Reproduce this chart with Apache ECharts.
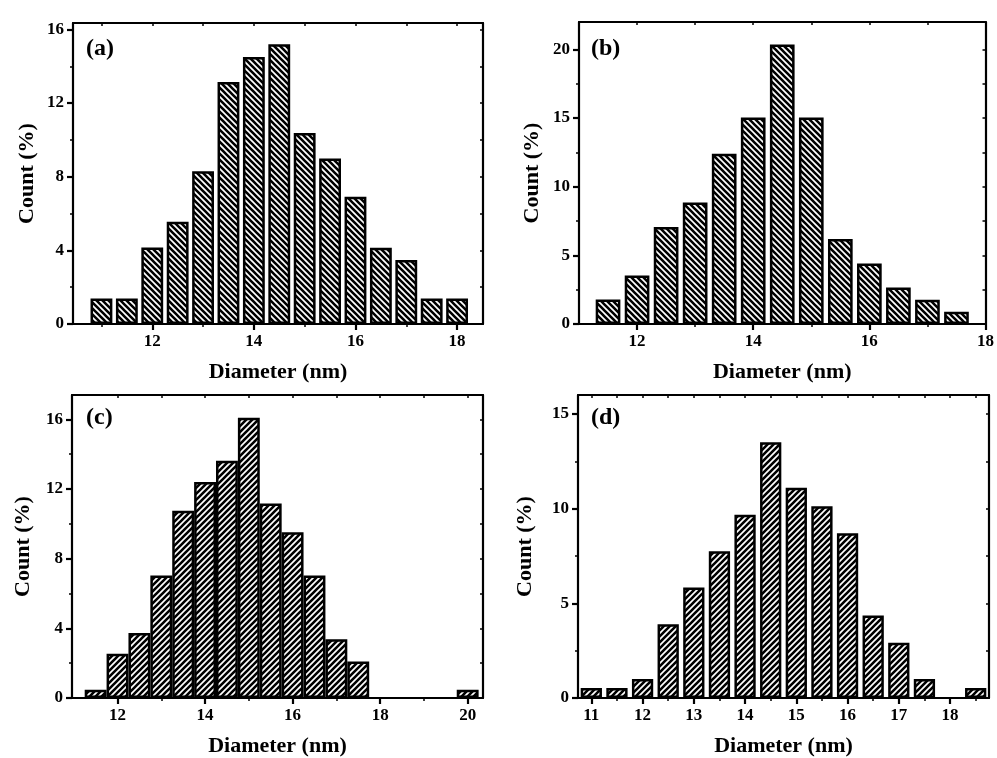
<!DOCTYPE html>
<html>
<head>
<meta charset="utf-8">
<script src="https://cdn.jsdelivr.net/npm/echarts@6/dist/echarts.min.js"></script>
<style>
  html, body { margin: 0; padding: 0; background: #fff; }
  #chart { width: 997px; height: 758px; }
</style>
</head>
<body>
<div id="chart"></div>
<script>
// bin centres (nm) and counts (%)
const diamA = [11, 11.5, 12, 12.5, 13, 13.5, 14, 14.5, 15, 15.5, 16, 16.5, 17, 17.5, 18];
const countA = [1.39, 1.39, 4.16, 5.55, 8.3, 13.15, 14.5, 15.2, 10.38, 8.99, 6.91, 4.14, 3.47, 1.39, 1.39];

const diamB = [11.5, 12, 12.5, 13, 13.5, 14, 14.5, 15, 15.5, 16, 16.5, 17, 17.5];
const countB = [1.79, 3.54, 7.07, 8.86, 12.4, 15.04, 20.36, 15.04, 6.2, 4.41, 2.66, 1.77, 0.9];

const diamC = [11.5, 12, 12.5, 13, 13.5, 14, 14.5, 15, 15.5, 16, 16.5, 17, 17.5, 20];
const countC = [0.48, 2.54, 3.73, 7.04, 10.76, 12.41, 13.63, 16.1, 11.17, 9.52, 7.04, 3.37, 2.1, 0.48];

const diamD = [11, 11.5, 12, 12.5, 13, 13.5, 14, 14.5, 15, 15.5, 16, 16.5, 17, 17.5, 18.5];
const countD = [0.53, 0.53, 1.0, 3.89, 5.83, 7.75, 9.67, 13.5, 11.1, 10.12, 8.7, 4.35, 2.92, 1.0, 0.53];

// tick values
const xTicksA = [12, 14, 16, 18];
const xMinorA = [11, 13, 15, 17];
const yTicksA = [0, 4, 8, 12, 16];
const yMinorA = [2, 6, 10, 14];

const xTicksB = [12, 14, 16, 18];
const xMinorB = [13, 15, 17];
const yTicksB = [0, 5, 10, 15, 20];
const yMinorB = [2.5, 7.5, 12.5, 17.5];

const xTicksC = [12, 14, 16, 18, 20];
const xMinorC = [13, 15, 17, 19];
const yTicksC = [0, 4, 8, 12, 16];
const yMinorC = [2, 6, 10, 14];

const xTicksD = [11, 12, 13, 14, 15, 16, 17, 18];
const xMinorD = [11.5, 12.5, 13.5, 14.5, 15.5, 16.5, 17.5, 18.5];
const yTicksD = [0, 5, 10, 15];
const yMinorD = [2.5, 7.5, 12.5];

// axis extents
const xRangeA = [10.44, 18.51], yRangeA = [0, 16.35];
const xRangeB = [11, 18], yRangeB = [0, 22];
const xRangeC = [10.96, 20.35], yRangeC = [0, 17.4];
const xRangeD = [10.74, 18.76], yRangeD = [0, 16];

const panelLabels = ['(a)', '(b)', '(c)', '(d)'];

const FONT = '"Liberation Serif", "Times New Roman", serif';

function hatch(dir) {
  const s = 6;
  const c = document.createElement('canvas');
  c.width = s; c.height = s;
  const ctx = c.getContext('2d');
  ctx.fillStyle = '#fff';
  ctx.fillRect(0, 0, s, s);
  ctx.strokeStyle = '#000';
  ctx.lineWidth = 2.6;
  ctx.beginPath();
  for (let k = -1; k <= 2; k++) {
    if (dir === 'back') {
      ctx.moveTo(-s, -s + k * s); ctx.lineTo(2 * s, 2 * s + k * s);
    } else {
      ctx.moveTo(-s, k * s + s); ctx.lineTo(2 * s, k * s - 2 * s);
    }
  }
  ctx.stroke();
  return c;
}

const panels = [
  { grid: { left: 73, top: 23, width: 410, height: 301 }, x: diamA, y: countA, xr: xRangeA, yr: yRangeA,
    xt: xTicksA, xm: xMinorA, yt: yTicksA, ym: yMinorA, dir: 'back', bw: '86%', yGap: 35, lbl: [86, 37] },
  { grid: { left: 579, top: 22, width: 410, height: 302 }, x: diamB, y: countB, xr: xRangeB, yr: yRangeB,
    xt: xTicksB, xm: xMinorB, yt: yTicksB, ym: yMinorB, dir: 'back', bw: '85%', yGap: 36, lbl: [591, 37] },
  { grid: { left: 72, top: 395, width: 411, height: 303 }, x: diamC, y: countC, xr: xRangeC, yr: yRangeC,
    xt: xTicksC, xm: xMinorC, yt: yTicksC, ym: yMinorC, dir: 'fwd', bw: '100%', yGap: 38, lbl: [86, 406] },
  { grid: { left: 578, top: 395, width: 411, height: 303 }, x: diamD, y: countD, xr: xRangeD, yr: yRangeD,
    xt: xTicksD, xm: xMinorD, yt: yTicksD, ym: yMinorD, dir: 'fwd', bw: '83%', yGap: 42, lbl: [591, 406] }
];

const lineBlack = { color: '#000', width: 2.2 };
const labelStyle = { color: '#000', fontFamily: FONT, fontWeight: 'bold', fontSize: 17 };
const nameStyle = { color: '#000', fontFamily: FONT, fontWeight: 'bold', fontSize: 22 };

const grid = [], xAxis = [], yAxis = [], series = [], title = [];

panels.forEach((p, i) => {
  grid.push(Object.assign({ containLabel: false }, p.grid));
  const base = { type: 'value', gridIndex: i, splitLine: { show: false } };

  xAxis.push(
    Object.assign({}, base, {
      position: 'bottom', min: p.xr[0], max: p.xr[1],
      axisLine: { onZero: false, lineStyle: lineBlack },
      axisTick: { customValues: p.xt, length: 6, lineStyle: lineBlack },
      axisLabel: Object.assign({ customValues: p.xt, margin: 9 }, labelStyle),
      name: 'Diameter (nm)', nameLocation: 'middle', nameGap: 37, nameTextStyle: nameStyle
    }),
    Object.assign({}, base, {
      position: 'bottom', min: p.xr[0], max: p.xr[1],
      axisLine: { show: false, onZero: false },
      axisTick: { customValues: p.xm, length: 3, lineStyle: { color: '#000', width: 1.5 } },
      axisLabel: { show: false }
    }),
    Object.assign({}, base, {
      position: 'top', min: p.xr[0], max: p.xr[1],
      axisLine: { onZero: false, lineStyle: lineBlack },
      axisTick: { customValues: p.xt.concat(p.xm), inside: true, length: 3, lineStyle: { color: '#000', width: 1.5 } },
      axisLabel: { show: false }
    })
  );

  yAxis.push(
    Object.assign({}, base, {
      position: 'left', min: p.yr[0], max: p.yr[1],
      axisLine: { onZero: false, lineStyle: lineBlack },
      axisTick: { customValues: p.yt, length: 6, lineStyle: lineBlack },
      axisLabel: Object.assign({ customValues: p.yt, margin: 9 }, labelStyle),
      name: 'Count (%)', nameLocation: 'middle', nameGap: p.yGap, nameTextStyle: nameStyle
    }),
    Object.assign({}, base, {
      position: 'left', min: p.yr[0], max: p.yr[1],
      axisLine: { show: false, onZero: false },
      axisTick: { customValues: p.ym, length: 3, lineStyle: { color: '#000', width: 1.5 } },
      axisLabel: { show: false }
    }),
    Object.assign({}, base, {
      position: 'right', min: p.yr[0], max: p.yr[1],
      axisLine: { onZero: false, lineStyle: lineBlack },
      axisTick: { customValues: p.yt.concat(p.ym), inside: true, length: 3, lineStyle: { color: '#000', width: 1.5 } },
      axisLabel: { show: false }
    })
  );

  series.push({
    type: 'bar',
    xAxisIndex: i * 3,
    yAxisIndex: i * 3,
    barWidth: p.bw,
    silent: true,
    data: p.x.map((d, k) => [d, p.y[k]]),
    itemStyle: {
      color: { image: hatch(p.dir), repeat: 'repeat' },
      borderColor: '#000',
      borderWidth: 2.5
    }
  });

  title.push({
    text: panelLabels[i], left: p.lbl[0], top: p.lbl[1], padding: 0,
    textStyle: { color: '#000', fontFamily: FONT, fontWeight: 'bold', fontSize: 24 }
  });
});

const chart = echarts.init(document.getElementById('chart'), null, { renderer: 'canvas' });
chart.setOption({
  animation: false,
  backgroundColor: '#fff',
  title, grid, xAxis, yAxis, series
});
</script>
</body>
</html>
